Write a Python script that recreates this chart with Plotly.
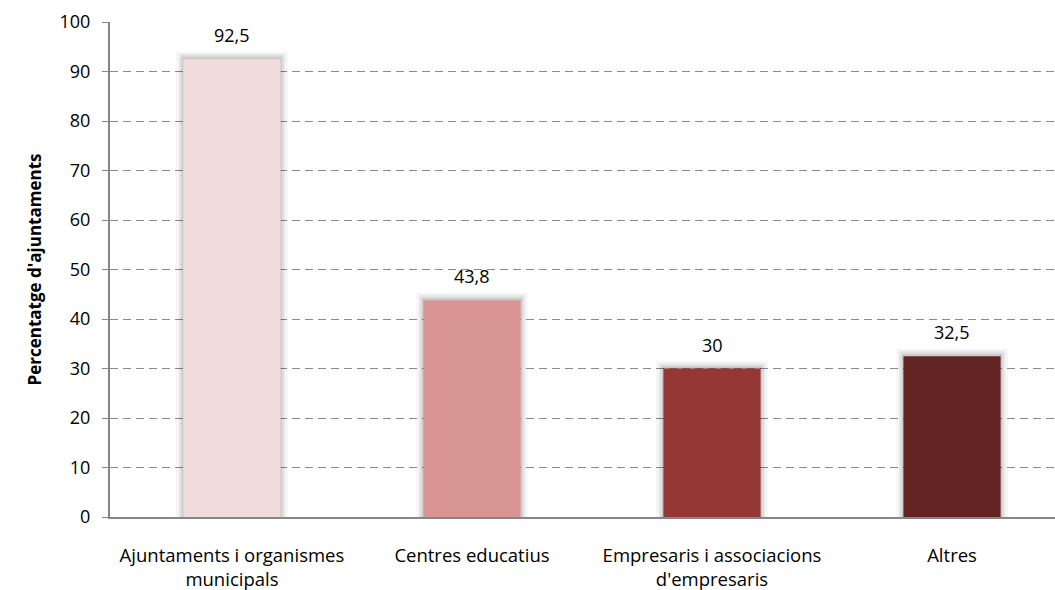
import plotly.graph_objects as go

categories = ["Ajuntaments i organismes<br>municipals", "Centres educatius",
              "Empresaris i associacions<br>d'empresaris", "Altres"]
values = [92.5, 43.8, 30, 32.5]
colors = ["#F0DCDB", "#D99594", "#953735", "#632523"]
y_ticks = [0, 10, 20, 30, 40, 50, 60, 70, 80, 90, 100]
y_title = "Percentatge d'ajuntaments"

FONT = "Open Sans"
BAR_W = 0.405
xs = list(range(len(categories)))

fig = go.Figure()
# soft shadow layers behind the bars
for extra_w, extra_h, alpha in [(0.06, 1.5, 0.04), (0.035, 1.0, 0.07), (0.015, 0.5, 0.10)]:
    fig.add_trace(go.Bar(
        x=xs, y=[v + extra_h for v in values], width=BAR_W + extra_w,
        marker=dict(color=f"rgba(0,0,0,{alpha})", line=dict(width=0)),
        hoverinfo="skip",
    ))
fig.add_trace(go.Bar(
    x=xs, y=values,
    marker=dict(color=colors, line=dict(width=0)),
    width=BAR_W,
))
for x, v in zip(xs, values):
    fig.add_annotation(
        x=x, y=v, text=f"{v:g}".replace(".", ","), showarrow=False,
        yanchor="middle", yshift=24,
        font=dict(family=FONT, size=18, color="#000000"),
    )
fig.update_layout(
    width=1055, height=590,
    barmode="overlay",
    margin=dict(l=110, r=0, t=22, b=73),
    paper_bgcolor="white", plot_bgcolor="white",
    showlegend=False,
    font=dict(family=FONT, size=18, color="#000000"),
    xaxis=dict(
        range=[-0.508, 3.429],
        tickmode="array", tickvals=xs, ticktext=categories,
        showgrid=False, zeroline=False,
        showline=True, linecolor="#868686", linewidth=2,
        ticks="", ticklabelstandoff=21,
        tickfont=dict(family=FONT, size=18.5),
    ),
    yaxis=dict(
        range=[0, 100], tickvals=y_ticks,
        showgrid=True, gridcolor="#8a8a8a", gridwidth=1.3, griddash="8px,5px",
        zeroline=False,
        showline=True, linecolor="#868686", linewidth=2,
        ticks="outside", ticklen=6, tickcolor="#868686", tickwidth=1.3,
        ticklabelstandoff=8,
        tickfont=dict(family=FONT, size=18),
        title=dict(text="<b>" + y_title + "</b>", font=dict(family=FONT, size=17), standoff=14),
    ),
)
fig.write_html("out.html", config={"displayModeBar": False},
               post_script="document.body.style.margin='0px';")
